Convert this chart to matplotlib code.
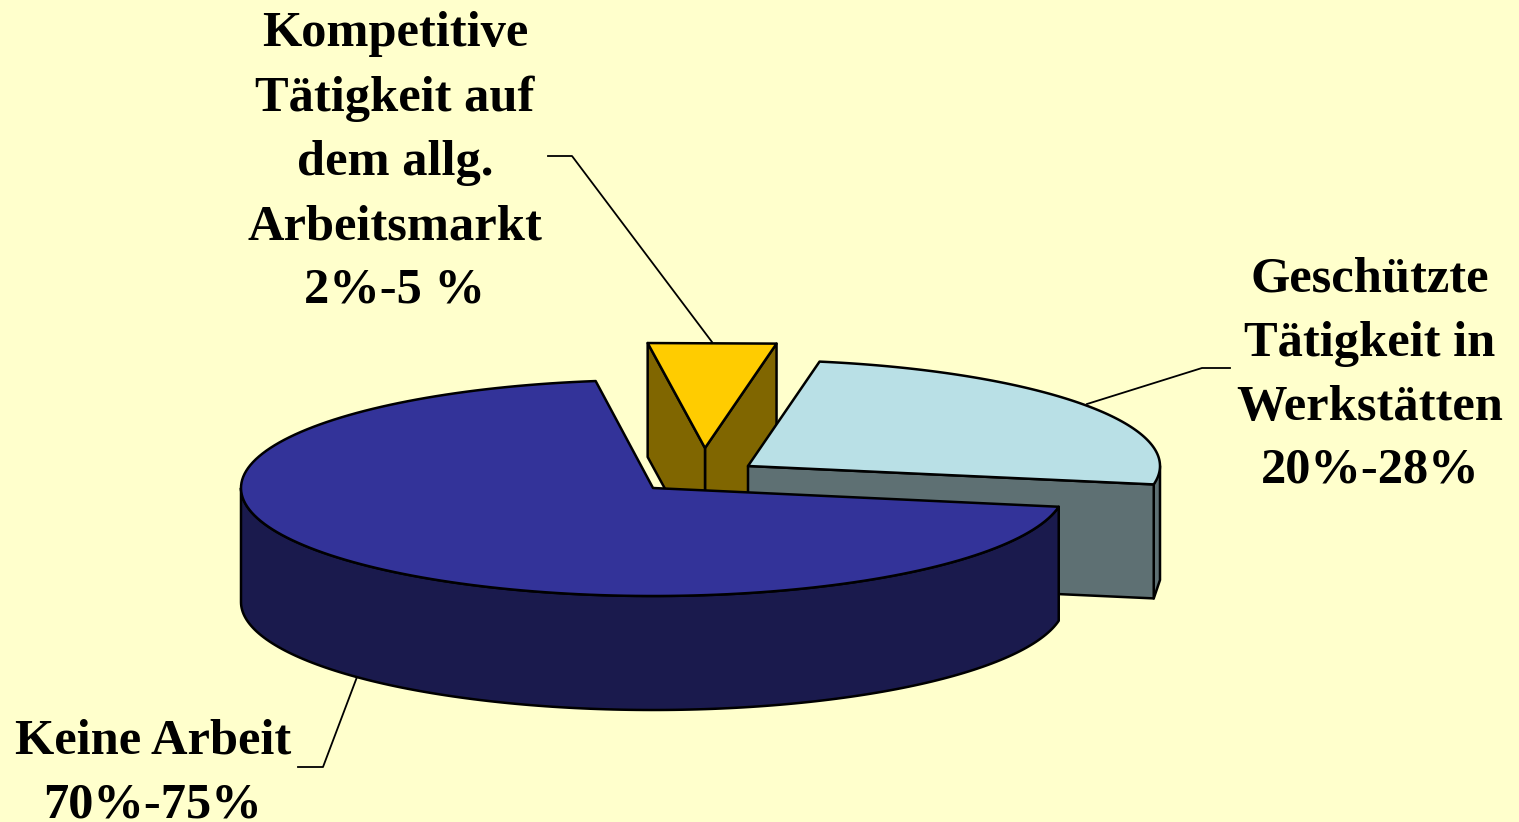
import numpy as np
import matplotlib
matplotlib.use("Agg")
import matplotlib.pyplot as plt
from matplotlib.patches import Polygon

# Employment shares drawn as an exploded 3D pie
categories = ["Keine Arbeit", "Geschützte Tätigkeit in Werkstätten",
              "Kompetitive Tätigkeit auf dem allg. Arbeitsmarkt"]
shares = [70, 25, 5]
label_lines = [
    ["Keine Arbeit", "70%-75%"],
    ["Geschützte", "Tätigkeit in", "Werkstätten", "20%-28%"],
    ["Kompetitive", "Tätigkeit auf", "dem allg.", "Arbeitsmarkt", "2%-5 %"],
]

top_colors = ["#333399", "#b9e0e6", "#ffcc00"]
side_colors = ["#1a1a4d", "#5e7073", "#806600"]
bg_color = "#ffffcc"

W, H = 1519, 822
START_DEG = 98.0
RX = 412.0
RY = [108.0, 106.0, 106.0]
DEPTH = 114.0
centers = [(653, 488), (748, 466), (705, 448)]
EDGE = dict(edgecolor="black", linewidth=1.8, joinstyle="round")

fig = plt.figure(figsize=(W / 100, H / 100), dpi=100, facecolor=bg_color)
ax = fig.add_axes([0, 0, 1, 1])
ax.set_xlim(0, W)
ax.set_ylim(H, 0)
ax.axis("off")


def rim(idx, a0, a1):
    # Very short arcs are drawn as a straight chord
    n = 2 if abs(a1 - a0) < 20 else 160
    t = np.radians(np.linspace(a0, a1, n))
    cx, cy = centers[idx]
    return np.column_stack([cx + RX * np.cos(t), cy - RY[idx] * np.sin(t)])


def draw_slice(idx, a0, a1, z):
    down = np.array([0, DEPTH])
    apex = np.array(centers[idx], dtype=float)

    # Outer wall: only the part of the rim on the near side
    for lo, hi in [(180, 360), (540, 720)]:
        s, e = max(a0, lo), min(a1, hi)
        if s < e:
            seg = rim(idx, s, e)
            wall = np.vstack([seg, (seg + down)[::-1]])
            ax.add_patch(Polygon(wall, closed=True, facecolor=side_colors[idx],
                                 zorder=z, **EDGE))

    # Radial cut faces that turn toward the viewer
    c0, c1 = np.cos(np.radians(a0)), np.cos(np.radians(a1))
    for ang, visible in ((a0, c0 > 0), (a1, c1 < 0)):
        if visible:
            end = rim(idx, ang, ang)[0]
            face = np.array([apex, end, end + down, apex + down])
            ax.add_patch(Polygon(face, closed=True, facecolor=side_colors[idx],
                                 zorder=z + 0.1, **EDGE))

    top = np.vstack([apex, rim(idx, a0, a1)])
    ax.add_patch(Polygon(top, closed=True, facecolor=top_colors[idx],
                         zorder=z + 0.2, **EDGE))


# Angular extents derive from the shares; the back slices go first
angles = START_DEG + np.concatenate([[0], np.cumsum(shares)]) * 3.6
draw_slice(2, angles[2], angles[3], 1)
draw_slice(1, angles[1], angles[2], 2)
draw_slice(0, angles[0], angles[1], 3)

# Leader lines from the labels to the slices
leaders = [
    [(298, 767), (323, 767), (357, 677)],
    [(1230, 368), (1202, 368), (1087, 404)],
    [(548, 156), (572, 156), (712, 342)],
]
for pts in leaders:
    xs, ys = zip(*pts)
    ax.plot(xs, ys, color="black", linewidth=1.3, zorder=0.5)

# Multi-line labels, one text per line, placed on their baselines
anchors = [(153, [753, 817]), (1370, [291, 356, 420, 482]),
           (395, [46, 111, 175, 239, 302])]
for lines, (x, ys) in zip(label_lines, anchors):
    for line, y in zip(lines, ys):
        ax.text(x, y, line, ha="center", va="baseline", color="black",
                family="Liberation Serif", weight="bold", fontsize=36.4, zorder=6)

fig.savefig("out.png", dpi=100, facecolor=bg_color)
